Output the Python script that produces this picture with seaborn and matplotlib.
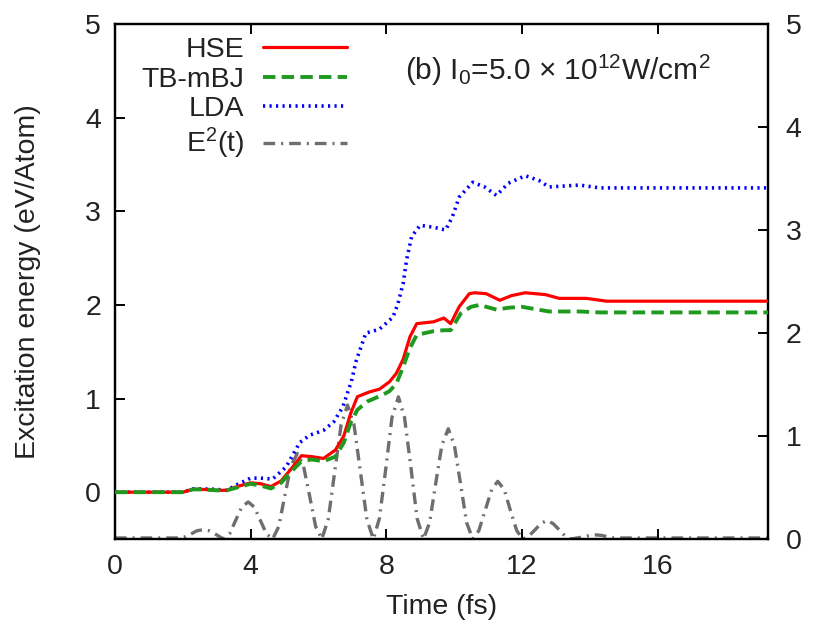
import numpy as np
import pandas as pd
import matplotlib
matplotlib.use("Agg")
import matplotlib.pyplot as plt
import seaborn as sns

# ---------------- data ----------------
t_hse = [0, 2.0, 2.3, 2.6, 3.0, 3.3, 3.6, 4.0, 4.3, 4.6, 4.9, 5.2, 5.5, 5.8, 6.15,
         6.5, 6.75, 6.95, 7.15, 7.5, 7.8, 8.1, 8.3, 8.5, 8.7, 8.9, 9.4, 9.7, 9.9,
         10.15, 10.45, 10.6, 10.95, 11.35, 11.7, 12.1, 12.7, 13.1, 13.9, 14.5, 19.3]
e_hse = [0, 0, 0.03, 0.03, 0.02, 0.02, 0.06, 0.10, 0.09, 0.06, 0.12, 0.25, 0.39, 0.38, 0.36,
         0.45, 0.60, 0.84, 1.02, 1.07, 1.10, 1.18, 1.27, 1.42, 1.66, 1.80, 1.82, 1.86, 1.80,
         1.98, 2.12, 2.13, 2.12, 2.05, 2.10, 2.13, 2.11, 2.07, 2.07, 2.04, 2.04]

t_mbj = [0, 2.0, 2.3, 2.6, 3.0, 3.3, 3.6, 4.0, 4.3, 4.6, 4.9, 5.2, 5.5, 5.8, 6.15,
         6.5, 6.75, 6.95, 7.15, 7.45, 7.9, 8.1, 8.3, 8.5, 8.7, 8.9, 9.4, 9.7, 9.9,
         10.2, 10.5, 10.75, 11.25, 11.6, 12.0, 12.8, 13.7, 14.3, 19.3]
e_mbj = [0, 0, 0.03, 0.03, 0.02, 0.02, 0.05, 0.09, 0.07, 0.04, 0.10, 0.22, 0.33, 0.35, 0.33,
         0.38, 0.53, 0.74, 0.88, 0.97, 1.04, 1.08, 1.16, 1.34, 1.54, 1.68, 1.72, 1.73, 1.73,
         1.91, 1.98, 2.00, 1.95, 1.97, 1.98, 1.93, 1.93, 1.92, 1.92]

t_lda = [0, 2.0, 2.3, 2.6, 3.0, 3.3, 3.6, 4.0, 4.3, 4.65, 5.05, 5.45, 5.75, 6.15, 6.45,
         6.72, 6.97, 7.12, 7.4, 7.8, 8.2, 8.35, 8.5, 8.6, 8.75, 9.0, 9.4, 9.75, 9.95,
         10.15, 10.55, 10.9, 11.25, 11.6, 12.1, 12.5, 12.8, 13.7, 14.3, 19.3]
e_lda = [0, 0, 0.035, 0.035, 0.03, 0.02, 0.08, 0.15, 0.15, 0.14, 0.27, 0.53, 0.61, 0.66, 0.75,
         0.91, 1.18, 1.41, 1.70, 1.74, 1.87, 2.02, 2.23, 2.48, 2.73, 2.85, 2.83, 2.80, 2.94,
         3.15, 3.31, 3.26, 3.17, 3.30, 3.38, 3.33, 3.26, 3.28, 3.25, 3.25]

t_field = [0.0, 1.0, 1.9, 2.06, 2.25, 2.42, 2.6, 2.78, 2.95, 3.05, 3.2,
           3.38, 3.56, 3.74, 3.93, 4.11, 4.29, 4.47, 4.65,
           4.83, 5.01, 5.19, 5.38, 5.56, 5.74, 5.92, 6.1,
           6.29, 6.48, 6.67, 6.86, 7.05, 7.24, 7.43, 7.62,
           7.8, 7.99, 8.17, 8.36, 8.54, 8.73, 8.91, 9.1,
           9.28, 9.46, 9.64, 9.83, 10.01, 10.19, 10.37, 10.55,
           10.73, 10.92, 11.11, 11.29, 11.48, 11.66, 11.85, 12.03,
           12.21, 12.39, 12.56, 12.74, 12.92, 13.1, 13.27, 13.45,
           13.63, 13.81, 14.0, 14.18, 14.36, 14.54, 14.72, 14.9, 19.3]
e_field = [0.01, 0.01, 0.01, 0.02, 0.05, 0.08, 0.09, 0.08, 0.05, 0.03, 0.0,
           0.05, 0.18, 0.31, 0.36, 0.31, 0.18, 0.05, 0.0,
           0.12, 0.42, 0.71, 0.83, 0.71, 0.42, 0.12, 0.0,
           0.19, 0.65, 1.11, 1.30, 1.11, 0.65, 0.19, 0.0,
           0.20, 0.69, 1.18, 1.38, 1.18, 0.69, 0.20, 0.0,
           0.16, 0.54, 0.91, 1.07, 0.91, 0.54, 0.16, 0.0,
           0.08, 0.28, 0.48, 0.56, 0.48, 0.28, 0.08, 0.0,
           0.03, 0.09, 0.15, 0.18, 0.15, 0.09, 0.03, 0.0,
           0.01, 0.02, 0.035, 0.04, 0.035, 0.02, 0.01, 0.01, 0.01]

labels = ["HSE", "TB-mBJ", "LDA", "E$^2$(t)"]
x_ticks = [0, 4, 8, 12, 16]
y_ticks_left = [0, 1, 2, 3, 4, 5]
y_ticks_right = [0, 1, 2, 3, 4, 5]

# ---------------- style ----------------
sns.set_theme(style="white")
plt.rcParams["font.family"] = ["Liberation Sans", "DejaVu Sans"]
plt.rcParams["mathtext.fontset"] = "custom"
plt.rcParams["mathtext.rm"] = "Liberation Sans"
plt.rcParams["mathtext.it"] = "Liberation Sans:italic"
plt.rcParams["mathtext.default"] = "regular"

FS = 20.5
TXT = "#222222"
fig = plt.figure(figsize=(8.15, 6.33), dpi=100)
ax = fig.add_axes([0.141, 0.1485, 0.801, 0.8135])
ax2 = ax.twinx()

df_hse = pd.DataFrame({"t": t_hse, "e": e_hse})
df_mbj = pd.DataFrame({"t": t_mbj, "e": e_mbj})
df_lda = pd.DataFrame({"t": t_lda, "e": e_lda})
df_f = pd.DataFrame({"t": t_field, "e": e_field})

sns.lineplot(data=df_hse, x="t", y="e", ax=ax, color="#ff0000", lw=2.3,
             label=labels[0], legend=False)
sns.lineplot(data=df_mbj, x="t", y="e", ax=ax, color="#1f9a1f", lw=2.8,
             label=labels[1], legend=False)
sns.lineplot(data=df_lda, x="t", y="e", ax=ax, color="#0000ff", lw=2.6,
             label=labels[2], legend=False)
sns.lineplot(data=df_f, x="t", y="e", ax=ax2, color="#6e6e6e", lw=2.4,
             label=labels[3], legend=False)

l_hse, l_mbj, l_lda = ax.get_lines()[:3]
l_mbj.set_dashes([3.2, 1.6])
l_lda.set_dashes([0.6, 1.2])
l_f = ax2.get_lines()[0]
l_f.set_dashes([3.5, 1.8, 0.6, 1.8])
l_hse.set_zorder(4); l_mbj.set_zorder(5); l_lda.set_zorder(3)

ax.set_xlim(0, 19.25)
ax.set_ylim(-0.5, 5)
ax2.set_ylim(0, 5)
ax.set_xticks(x_ticks)
ax.set_yticks(y_ticks_left)
ax2.set_yticks(y_ticks_right)
ax2.set_ylabel("")

ax.set_xlabel("Time (fs)", fontsize=FS, labelpad=10, color=TXT)
ax.set_ylabel("Excitation energy (eV/Atom)", fontsize=FS, labelpad=32, color=TXT)

for a in (ax, ax2):
    for s in a.spines.values():
        s.set_color("black")
        s.set_linewidth(1.6)
ax.tick_params(axis="x", direction="in", length=7, width=1.4, labelsize=FS,
               top=True, bottom=True, pad=11, colors="black", labelcolor=TXT)
ax.tick_params(axis="y", direction="in", length=7, width=1.4, labelsize=FS,
               left=True, right=False, pad=10, colors="black", labelcolor=TXT)
ax2.tick_params(axis="y", direction="in", length=7, width=1.4, labelsize=FS,
                right=True, pad=13, colors="black", labelcolor=TXT)

handles = [l_hse, l_mbj, l_lda, l_f]
leg = ax.legend(handles, labels, loc="upper left", bbox_to_anchor=(0.04, 0.975),
                frameon=False, fontsize=FS, markerfirst=False, handlelength=2.95,
                handletextpad=0.68, labelspacing=0.13, borderpad=0, borderaxespad=0)
for t in leg.get_texts():
    t.set_color(TXT)
try:
    for col in leg._legend_handle_box.get_children():
        col.align = "right"
except Exception:
    pass
leg.set_zorder(10)

ax.text(8.55, 4.5, "(b) I$_0$=5.0 $\\times$ 10$^{12}$W/cm$^2$", fontsize=21.5,
        ha="left", va="center", color=TXT)

ax.set_zorder(ax2.get_zorder() + 1)
ax.patch.set_visible(False)

fig.savefig("out.png", dpi=100)
